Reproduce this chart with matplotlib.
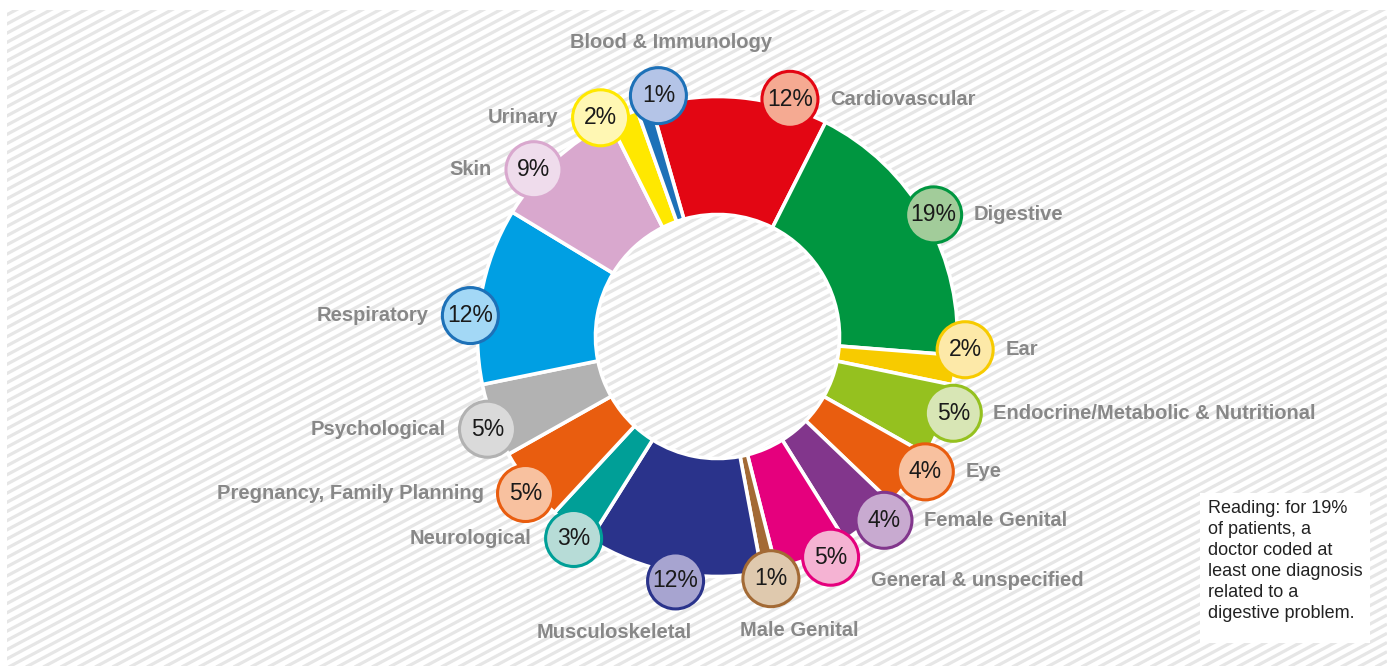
import numpy as np
import matplotlib.pyplot as plt
from matplotlib.patches import Circle, Rectangle

plt.rcParams['font.family'] = ['Liberation Sans', 'DejaVu Sans']

# Data
categories = ['Cardiovascular', 'Digestive', 'Ear', 'Endocrine/Metabolic & Nutritional',
              'Eye', 'Female Genital', 'General & unspecified', 'Male Genital',
              'Musculoskeletal', 'Neurological', 'Pregnancy, Family Planning',
              'Psychological', 'Respiratory', 'Skin', 'Urinary', 'Blood & Immunology']
values = [12, 19, 2, 5, 4, 4, 5, 1, 12, 3, 5, 5, 12, 9, 2, 1]

wedge_colors = ['#e30613', '#009640', '#f7cb00', '#95c11f', '#e95d0f', '#82368c',
                '#e5007d', '#a36a35', '#2a338b', '#009f97', '#e95d0f', '#b2b2b2',
                '#009fe3', '#d9a8ce', '#ffe800', '#1d71b8']
bubble_fill = ['#f5aa92', '#a2cc9a', '#fde9a8', '#d8e6b5', '#f8c19f', '#c8aad0',
               '#f5b3d3', '#dfc9ae', '#a7a4d0', '#b7dcd7', '#f8c19f', '#dadada',
               '#a3d8f6', '#efdcec', '#fff7b3', '#b4c4e7']
bubble_edge = wedge_colors[:12] + ['#1d71b8', '#d9a8ce', '#ffe800', '#1d71b8']

# layout tweaks: bubble angle shift (deg) and label placement
angle_shift = [11.6, 0, -5, -2.5, -3.5, -3, -4, 0, -1, -2, -1, -1.5, -5, -5, -5, 4]
label_side = ['r', 'r', 'r', 'r', 'r', 'r', 'r', 'b', 'b', 'l', 'l', 'l', 'l', 'l', 'l', 't']

W, H = 1387, 666
fig = plt.figure(figsize=(W / 100, H / 100), dpi=100)

# striped background
bg = fig.add_axes([0, 0, 1, 1])
bg.set_xlim(0, W)
bg.set_ylim(H, 0)
bg.axis('off')
clip = Rectangle((7, 10), W - 7, H - 10, transform=bg.transData, fc='none', ec='none')
bg.add_patch(clip)
t = np.tan(np.radians(28))
xs = np.array([0, W])
for c in np.arange(0, H + W * t + 20, 9.2):
    ln, = bg.plot(xs, c - xs * t, color='#e6e6e6', lw=2.3, solid_capstyle='butt')
    ln.set_clip_path(clip)

bg.add_patch(Rectangle((1200, 493), 170, 150, fc='white', ec='none', zorder=3))
bg.text(1208, 500, 'Reading: for 19%\nof patients, a\ndoctor coded at\nleast one diagnosis\nrelated to a\ndigestive problem.',
        fontsize=13, color='#222222', va='top', ha='left', linespacing=1.3, zorder=4)

# donut
cx, cy = 717.5, H - 336.5
ax = fig.add_axes([(cx - 300) / W, (cy - 300) / H, 600 / W, 600 / H])
ax.pie(values, colors=wedge_colors, radius=240, startangle=106, counterclock=False,
       wedgeprops=dict(width=118, edgecolor='white', linewidth=2.6))
ax.set_xlim(-300, 300)
ax.set_ylim(-300, 300)
ax.set_aspect('equal')
ax.axis('off')

total = sum(values)
start = -16.0
label_color = '#888888'
for i, (name, v) in enumerate(zip(categories, values)):
    span = v / total * 360
    mid = start + span / 2
    start += span
    th = np.radians(mid + angle_shift[i])
    bx, by = 248 * np.sin(th), 248 * np.cos(th)
    ax.add_patch(Circle((bx, by), 28, fc=bubble_fill[i], ec=bubble_edge[i], lw=2.2,
                        zorder=3, clip_on=False))
    ax.text(bx, by, f'{v}%', fontsize=16.5, color='#1a1a1a', ha='center', va='center',
            zorder=4, clip_on=False)
    side = label_side[i]
    kw = dict(fontsize=14.5, fontweight='bold', color=label_color, va='center', clip_on=False)
    if side == 'r':
        # general label sits a little lower, beside the bubble's bottom
        dy = -23 if name.startswith('General') else 0
        ax.text(bx + 40, by + dy, name, ha='left', **kw)
    elif side == 'l':
        ax.text(bx - 42, by, name, ha='right', **kw)
    elif side == 't':
        ax.text(bx + 13, by + 53, name, ha='center', **kw)
    else:
        dx = -61 if name == 'Musculoskeletal' else 28
        ax.text(bx + dx, by - 52, name, ha='center', **kw)

fig.savefig('out.png', dpi=100)
